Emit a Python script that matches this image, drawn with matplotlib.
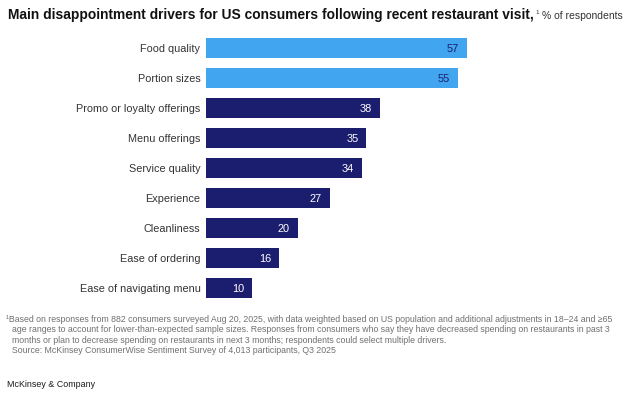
import matplotlib
matplotlib.use('Agg')
import matplotlib.pyplot as plt

# Dados do gráfico
categorias = ['Food quality', 'Portion sizes', 'Promo or loyalty offerings', 'Menu offerings',
              'Service quality', 'Experience', 'Cleanliness', 'Ease of ordering',
              'Ease of navigating menu']
valores = [57, 55, 38, 35, 34, 27, 20, 16, 10]
destaque = [True, True, False, False, False, False, False, False, False]

COR_CLARA = '#42A5F0'
COR_ESCURA = '#1B1D6E'

plt.rcParams['font.family'] = ['Liberation Sans', 'DejaVu Sans']

fig = plt.figure(figsize=(6.24, 3.93), dpi=100)
ax = fig.add_axes([206 / 624, 1 - 298 / 393, (467 - 206) / 624, (298 - 38) / 393])

posicoes = list(range(len(categorias)))
cores = [COR_CLARA if d else COR_ESCURA for d in destaque]
ax.barh(posicoes, valores, height=0.68, color=cores, edgecolor='none')
ax.set_xlim(0, max(valores))
ax.set_ylim(len(categorias) - 1 + 0.34, -0.34)

for y, v, d in zip(posicoes, valores, destaque):
    ax.text(v - 1.7, y + 0.03, str(v), color=COR_ESCURA if d else 'white',
            ha='right', va='center', fontsize=7.9)

ax.set_yticks(posicoes)
ax.set_yticklabels(categorias, fontsize=7.8, color='#333333')
ax.tick_params(axis='y', length=0, pad=4)
ax.set_xticks([])
for s in ax.spines.values():
    s.set_visible(False)

# Titulo
W, H = fig.bbox.width, fig.bbox.height
t1 = fig.text(8 / 624, 1 - 19 / 393,
              'Main disappointment drivers for US consumers following recent restaurant visit,',
              fontsize=9.9, fontweight='bold', color='#111111', ha='left', va='baseline')
fig.canvas.draw()
r = fig.canvas.get_renderer()
bb = t1.get_window_extent(r)
t2 = fig.text(bb.x1 / W + 2 / 624, 1 - 14 / 393, '1', fontsize=4.5, color='#333333',
              ha='left', va='baseline')
fig.canvas.draw()
bb2 = t2.get_window_extent(r)
fig.text(bb2.x1 / W + 3 / 624, 1 - 19 / 393, '% of respondents', fontsize=7.5,
         color='#333333', ha='left', va='baseline')

# Notas de rodape
notas = ['¹Based on responses from 882 consumers surveyed Aug 20, 2025, with data weighted based on US population and additional adjustments in 18–24 and ≥65',
         'age ranges to account for lower-than-expected sample sizes. Responses from consumers who say they have decreased spending on restaurants in past 3',
         'months or plan to decrease spending on restaurants in next 3 months; respondents could select multiple drivers.',
         'Source: McKinsey ConsumerWise Sentiment Survey of 4,013 participants, Q3 2025']
for i, linha in enumerate(notas):
    x0 = 6 if i == 0 else 12
    fig.text(x0 / 624, 1 - (322 + i * 10.4) / 393, linha, fontsize=6.35, color='#707070',
             ha='left', va='baseline')

fig.text(7 / 624, 1 - 387 / 393, 'McKinsey & Company', fontsize=6.4, color='#1a1a1a',
         ha='left', va='baseline')

fig.savefig('out.png', dpi=100)
